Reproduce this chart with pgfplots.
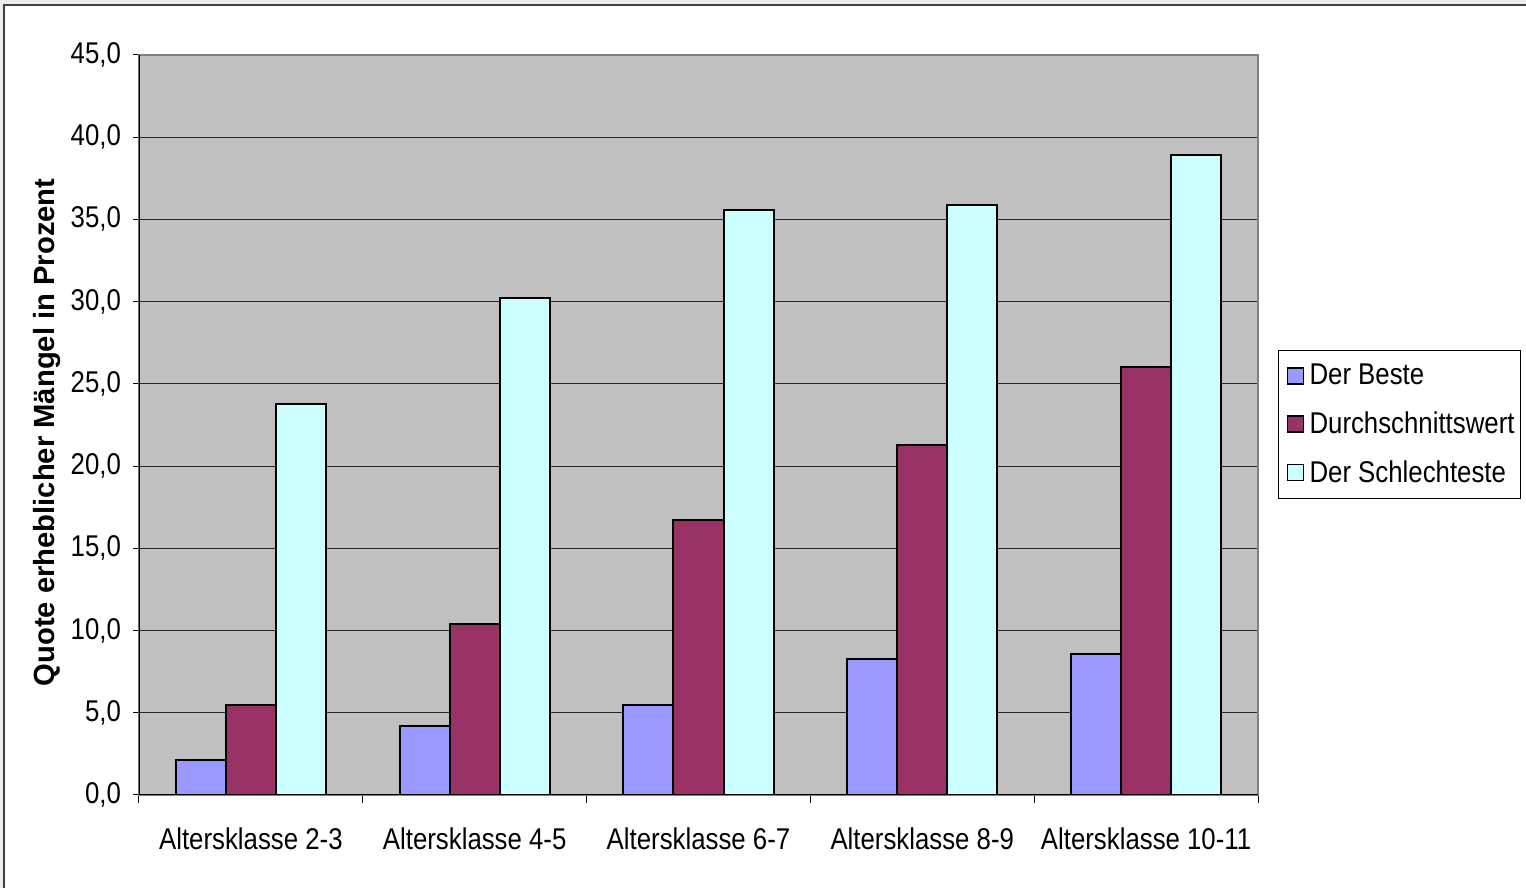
\documentclass[border=0pt]{standalone}
\usepackage{fontspec}
\setmainfont{Liberation Sans}[FakeStretch=0.86]
\newfontfamily\labfont{Liberation Sans}
\usepackage{pgfplots}
\pgfplotsset{compat=1.18}

\definecolor{cBest}{RGB}{153,153,255}
\definecolor{cAvg}{RGB}{153,51,102}
\definecolor{cWorst}{RGB}{204,255,255}
\definecolor{plotbg}{RGB}{192,192,192}
\definecolor{outerbg}{RGB}{235,236,240}
\definecolor{framecol}{RGB}{64,64,64}

\begin{document}
\begin{tikzpicture}
% picture frame, 1px = 0.5pt
\path[use as bounding box] (-69.5pt,-46.5pt) rectangle (693.5pt,397.5pt);
\fill[outerbg] (-69.5pt,-46.5pt) rectangle (693.5pt,397.5pt);
\fill[white] (-67.25pt,-46.5pt) rectangle (693.5pt,394.75pt);
\draw[framecol, line width=1pt] (-67.25pt,-46.5pt) -- (-67.25pt,394.75pt) -- (693.5pt,394.75pt);

\begin{axis}[
    at={(0,0)}, anchor=south west,
    scale only axis,
    width=559.5pt, height=370pt,
    ybar=0pt,
    bar width=25pt,
    xmin=-0.5, xmax=4.5,
    ymin=0, ymax=45,
    xtick={0,1,2,3,4},
    xticklabels={Altersklasse 2-3, Altersklasse 4-5, Altersklasse 6-7, Altersklasse 8-9, Altersklasse 10-11},
    minor xtick={-0.5,0.5,1.5,2.5,3.5,4.5},
    ytick={0,5,...,45},
    tick align=outside,
    major x tick style={draw=none},
    minor x tick style={black, line width=0.5pt},
    minor tick length=4pt,
    major tick length=3pt,
    ytick style={black, line width=0.5pt},
    xtick pos=bottom, ytick pos=left,
    ymajorgrids,
    major grid style={black!85, line width=0.5pt},
    axis line style={draw=gray, line width=0.75pt},
    axis background/.style={fill=plotbg},
    tick label style={font=\fontsize{15pt}{17pt}\selectfont},
    xticklabel style={yshift=-10pt},
    yticklabel style={xshift=-2.5pt},
    /pgf/number format/.cd, fixed, fixed zerofill, precision=1, use comma, assume math mode=true,
    /pgfplots/.cd,
    ylabel={Quote erheblicher Mängel in Prozent},
    ylabel style={at={(axis description cs:-0.0822,0.49)}, anchor=center,
        font=\labfont\bfseries\fontsize{14.6pt}{16pt}\selectfont},
    legend style={at={(rel axis cs:1.0179,0.6014)}, anchor=north west,
        draw=black, fill=white, line width=0.5pt,
        font=\fontsize{15pt}{17pt}\selectfont,
        row sep=8pt, inner xsep=1pt, inner ysep=4.75pt},
    legend cell align=left,
    legend image code/.code={
        \path[draw=none, fill=none] (0pt,0pt) -- (12.5pt,0pt);
        \draw[#1, draw=black, line width=0.75pt] (3.5pt,-4pt) rectangle (11.5pt,4pt);},
]
\addplot[fill=cBest, draw=black, line width=1pt] coordinates {
    (0,2.1) (1,4.2) (2,5.5) (3,8.3) (4,8.6)};
\addplot[fill=cAvg, draw=black, line width=1pt] coordinates {
    (0,5.5) (1,10.4) (2,16.7) (3,21.3) (4,26.0)};
\addplot[fill=cWorst, draw=black, line width=1pt] coordinates {
    (0,23.8) (1,30.2) (2,35.6) (3,35.9) (4,38.9)};
\legend{Der Beste, Durchschnittswert, Der Schlechteste}
\draw[black, line width=1pt] (rel axis cs:0,1) -- (rel axis cs:0,0) -- (rel axis cs:1,0);
\end{axis}
\end{tikzpicture}
\end{document}
